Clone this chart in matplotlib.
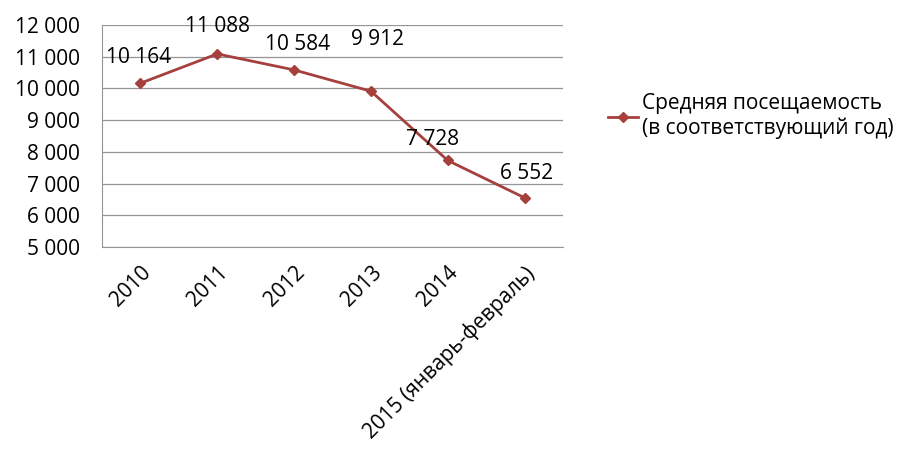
import matplotlib
matplotlib.use("Agg")
import matplotlib.pyplot as plt
from matplotlib.ticker import FuncFormatter

plt.rcParams['font.family'] = ['Open Sans', 'DejaVu Sans']

categories = ['2010', '2011', '2012', '2013', '2014', '2015 (январь-февраль)']
values = [10164, 11088, 10584, 9912, 7728, 6552]
value_labels = ['10 164', '11 088', '10 584', '9 912', '7 728', '6 552']
series_name = 'Средняя посещаемость\n(в соответствующий год)'
yticks = [5000, 6000, 7000, 8000, 9000, 10000, 11000, 12000]

# label offsets in pixels (dx, dy) relative to points
label_offsets = [(-2, 26), (0, 27), (3, 25), (7, 52), (-15, 21), (2, 24)]

color = '#A5403D'

fig = plt.figure(figsize=(9.07, 4.54), dpi=100)
ax = fig.add_axes([102/907, 1-247/454, (563-102)/907, (247-25)/454])

x = list(range(len(categories)))
line, = ax.plot(x, values, color=color, lw=2, marker='D', markersize=5,
                label=series_name)

ax.set_xlim(-0.5, len(categories) - 0.5)
ax.set_ylim(5000, 12000)
ax.set_yticks(yticks)
ax.yaxis.set_major_formatter(FuncFormatter(lambda v, p: f'{int(v):,}'.replace(',', ' ')))
ax.grid(axis='y', color='#959595', lw=0.9)
ax.set_axisbelow(True)
for s in ['top', 'right']:
    ax.spines[s].set_visible(False)
ax.spines['left'].set_color('#959595')
ax.spines['bottom'].set_color('#959595')
ax.tick_params(axis='y', length=0, labelsize=15, pad=16)
ax.tick_params(axis='x', length=0, labelsize=15, pad=11)
ax.set_xticks(x)
ax.set_xticklabels(categories, rotation=45, ha='right', rotation_mode='anchor')

for xi, v, lab, (dx, dy) in zip(x, values, value_labels, label_offsets):
    ax.annotate(lab, (xi, v), xytext=(dx * 0.72, dy * 0.72), textcoords='offset points',
                ha='center', va='center', fontsize=15)

leg = ax.legend(loc='center left', bbox_to_anchor=(598/907, 1-116/454),
                bbox_transform=fig.transFigure, frameon=False, fontsize=15,
                handlelength=1.4, handletextpad=0.2, borderpad=0)

fig.savefig('out.png', dpi=100)
